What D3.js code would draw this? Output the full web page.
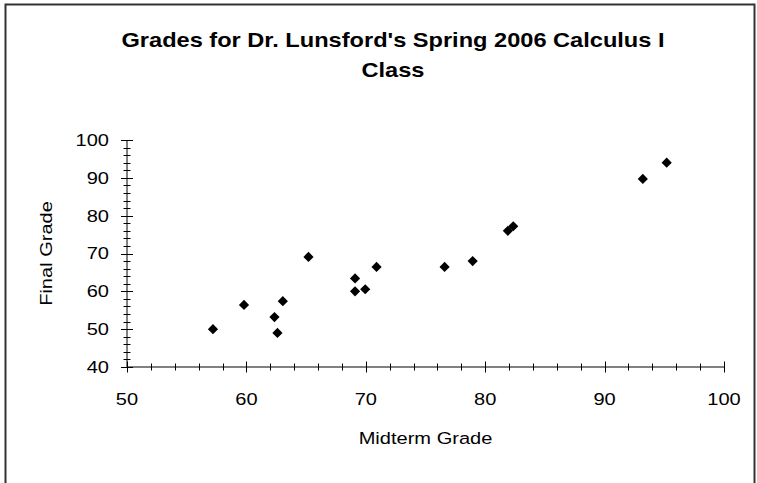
<!DOCTYPE html>
<html>
<head>
<meta charset="utf-8">
<script src="https://cdn.jsdelivr.net/npm/d3@7"></script>
<style>
    body { margin: 0; background: #fff; }
    svg text { font-family: Arial, "Liberation Sans", sans-serif; fill: #000; }
</style>
</head>
<body>
<div id="chart"></div>
<script>
// midterm vs final grade, one entry per student
const midterm = [57.2, 59.8, 62.35, 62.6, 63.05, 65.2, 69.1, 69.1, 69.95, 70.9, 76.6, 78.95, 81.9, 82.35, 93.2, 95.2];
const finalGrade = [50.0, 56.4, 53.2, 49.0, 57.4, 69.1, 63.4, 60.0, 60.55, 66.45, 66.45, 68.0, 76.0, 77.2, 89.7, 94.0];
const xTicks = [50, 60, 70, 80, 90, 100];
const yTicks = [40, 50, 60, 70, 80, 90, 100];
const titleLines = ["Grades for Dr. Lunsford's Spring 2006 Calculus I", "Class"];

const width = 757, height = 483;
const margin = {top: 140, right: 33, bottom: 116, left: 127};
// the original's lettering is a bit wider than Arial
const stretch = 1.18;

const svg = d3.select("#chart").append("svg")
    .attr("width", width)
    .attr("height", height);

// chart area frame (bottom edge runs off the picture)
svg.append("rect")
    .attr("x", 5.5).attr("y", 4.5)
    .attr("width", 749).attr("height", height + 10)
    .attr("fill", "none")
    .attr("stroke", "#333")
    .attr("stroke-width", 2);

const x = d3.scaleLinear().domain([50, 100]).range([margin.left, width - margin.right]);
const y = d3.scaleLinear().domain([40, 100]).range([height - margin.bottom, margin.top]);

// helper: put a text at (px,py), widened horizontally
function place(px, py, rot) {
    return "translate(" + px + "," + py + ")" + (rot ? " rotate(" + rot + ")" : "") + " scale(" + stretch + ",1)";
}

// title
svg.selectAll(".title")
    .data(titleLines)
    .enter().append("text")
    .attr("class", "title")
    .attr("transform", (d, i) => place(393, 47 + i * 30))
    .attr("text-anchor", "middle")
    .style("font-size", "20px").style("font-weight", "bold")
    .text(d => d);

// minor ticks (every 2 units), crossing the axis
const xMinor = d3.range(50, 100.01, 2);
const yMinor = d3.range(40, 100.01, 2);

const gx = svg.append("g").attr("transform", "translate(0," + y(40) + ")");
gx.append("line").attr("x1", x(50)).attr("x2", x(100)).attr("stroke", "#000");
gx.selectAll(".minor").data(xMinor).enter().append("line")
    .attr("x1", d => Math.round(x(d)) + 0.5).attr("x2", d => Math.round(x(d)) + 0.5)
    .attr("y1", -3.5).attr("y2", 3.5).attr("stroke", "#000");
gx.selectAll(".major").data(xTicks).enter().append("line")
    .attr("x1", d => Math.round(x(d)) + 0.5).attr("x2", d => Math.round(x(d)) + 0.5)
    .attr("y1", -5.5).attr("y2", 5.5).attr("stroke", "#000");
gx.selectAll(".lbl").data(xTicks).enter().append("text")
    .attr("transform", d => place(x(d), 38))
    .attr("text-anchor", "middle")
    .style("font-size", "17px")
    .text(d => d);

const gy = svg.append("g").attr("transform", "translate(" + x(50) + ",0)");
gy.append("line").attr("y1", y(40)).attr("y2", y(100)).attr("stroke", "#000");
gy.selectAll(".minor").data(yMinor).enter().append("line")
    .attr("y1", d => Math.round(y(d)) + 0.5).attr("y2", d => Math.round(y(d)) + 0.5)
    .attr("x1", -3.5).attr("x2", 3.5).attr("stroke", "#000");
gy.selectAll(".major").data(yTicks).enter().append("line")
    .attr("y1", d => Math.round(y(d)) + 0.5).attr("y2", d => Math.round(y(d)) + 0.5)
    .attr("x1", -6).attr("x2", 6).attr("stroke", "#000");
gy.selectAll(".lbl").data(yTicks).enter().append("text")
    .attr("transform", d => place(-18, y(d)))
    .attr("dy", "0.35em")
    .attr("text-anchor", "end")
    .style("font-size", "17px")
    .text(d => d);

// axis titles, centred on the plot area
svg.append("text")
    .attr("transform", place((x(50) + x(100)) / 2, 444))
    .attr("text-anchor", "middle")
    .style("font-size", "17px")
    .text("Midterm Grade");

svg.append("text")
    .attr("transform", place(52, (y(40) + y(100)) / 2, -90))
    .attr("text-anchor", "middle")
    .style("font-size", "17px")
    .text("Final Grade");

// points: diamonds
const diamond = d3.symbol().type(d3.symbolSquare).size(52);
svg.selectAll(".pt")
    .data(midterm)
    .enter().append("path")
    .attr("class", "pt")
    .attr("d", diamond)
    .attr("fill", "#000")
    .attr("transform", (d, i) => "translate(" + x(d) + "," + y(finalGrade[i]) + ") rotate(45)");
</script>
</body>
</html>
